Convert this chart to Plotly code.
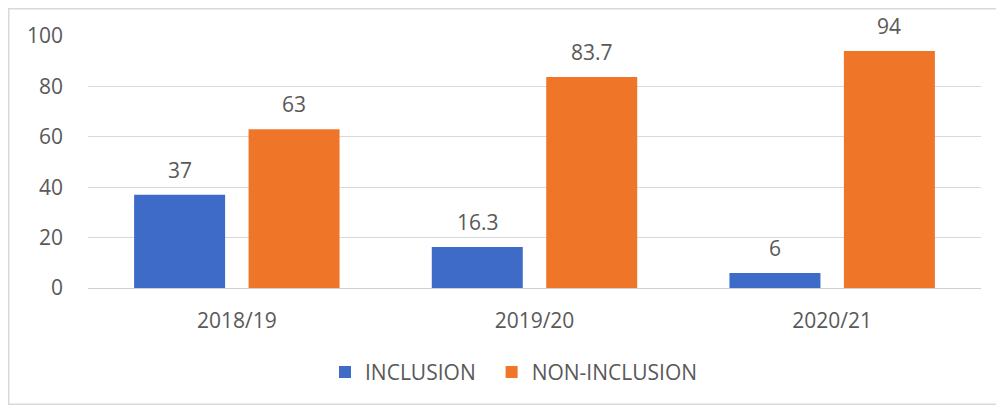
import plotly.graph_objects as go

categories = ["2018/19", "2019/20", "2020/21"]
inclusion = [37, 16.3, 6]
non_inclusion = [63, 83.7, 94]
inclusion_labels = ["37", "16.3", "6"]
non_inclusion_labels = ["63", "83.7", "94"]
series_names = ["INCLUSION", "NON-INCLUSION"]
y_ticks = [0, 20, 40, 60, 80, 100]

FONT = "Open Sans"
TXT = "#595959"
BLUE = "#3D6BC7"
ORANGE = "#EF7629"

# plot area in figure pixels (page is offset by the 8px body margin)
PL, PR, PT, PB = 80, 973, 28, 280.5
PW, PH = PR - PL, PB - PT

fig = go.Figure()
fig.add_trace(go.Bar(name=series_names[0] + "\u00a0\u00a0", x=categories, y=inclusion,
                     marker=dict(color=BLUE, line=dict(width=0))))
fig.add_trace(go.Bar(name=series_names[1], x=categories, y=non_inclusion,
                     marker=dict(color=ORANGE, line=dict(width=0))))

annotations = []
for c, v, t in zip(categories, inclusion, inclusion_labels):
    annotations.append(dict(x=c, y=v, text=t, showarrow=False, xshift=-57,
                            yanchor="bottom", yshift=9,
                            font=dict(family=FONT, size=21, color=TXT)))
for c, v, t in zip(categories, non_inclusion, non_inclusion_labels):
    annotations.append(dict(x=c, y=v, text=t, showarrow=False, xshift=57,
                            yanchor="bottom", yshift=9,
                            font=dict(family=FONT, size=21, color=TXT)))

fig.update_layout(
    width=1004, height=410,
    margin=dict(l=PL, r=1004 - PR, t=PT, b=410 - PB),
    paper_bgcolor="white", plot_bgcolor="white",
    barmode="group", bargap=0.231, bargroupgap=0.205,
    font=dict(family=FONT, size=21, color=TXT),
    showlegend=True,
    legend=dict(orientation="h", x=(317 - PL) / PW, xanchor="left",
                y=(PB - 365) / PH, yanchor="middle",
                font=dict(family=FONT, size=21, color=TXT),
                bgcolor="rgba(0,0,0,0)"),
    annotations=annotations,
    shapes=[dict(type="rect", xref="paper", yref="paper",
                 x0=(0.75 - PL) / PW, x1=(1020 - PL) / PW,
                 y0=(PB - 397) / PH, y1=(PB - 0.75) / PH,
                 line=dict(color="#D9D9D9", width=1.5), layer="below")],
)
fig.update_yaxes(range=[0, 100], tickvals=y_ticks, showgrid=True,
                 gridcolor="#D9D9D9", gridwidth=1, zeroline=False,
                 showline=False, ticks="", ticklabelstandoff=24,
                 tickfont=dict(family=FONT, size=21, color=TXT))
fig.update_xaxes(showgrid=False, showline=True, linecolor="#D0D0D0",
                 linewidth=1, ticks="", ticklabelstandoff=14,
                 tickfont=dict(family=FONT, size=21, color=TXT))

fig.write_html("out.html")
